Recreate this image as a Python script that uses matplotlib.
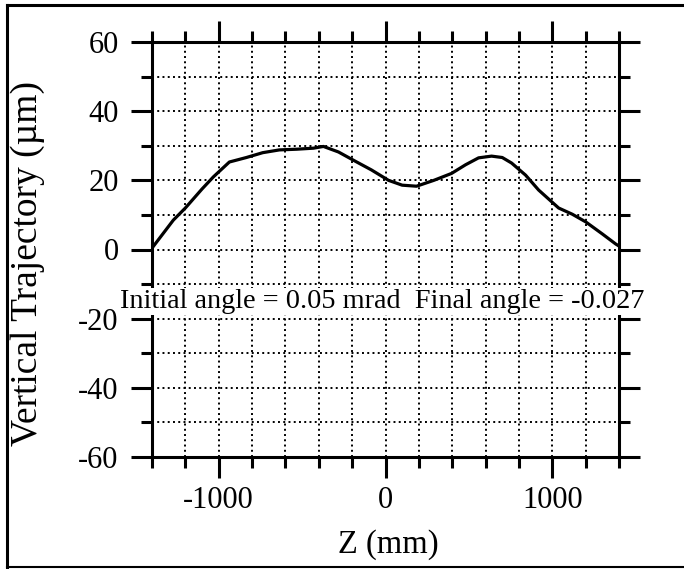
import matplotlib
matplotlib.use("Agg")
import matplotlib.pyplot as plt
from matplotlib.ticker import MultipleLocator, FuncFormatter
from matplotlib.lines import Line2D
import numpy as np

plt.rcParams['font.family'] = ['Liberation Serif', 'DejaVu Serif']

# Data
z_mm = [-1400, -1272, -1200, -1100, -1032, -936, -834, -736, -636, -532, -432, -372,
        -282, -184, -84, 18, 100, 186, 290, 396, 480, 558, 636, 700, 756, 840, 918,
        1038, 1120, 1200, 1300, 1380, 1400]
traj_um = [0.4, 8.5, 12.0, 17.5, 21.0, 25.3, 26.6, 28.0, 28.8, 29.0, 29.3, 29.8,
           28.2, 25.6, 23.0, 20.0, 18.6, 18.3, 20.0, 22.0, 24.5, 26.5, 27.0, 26.6,
           25.0, 21.5, 17.2, 12.0, 10.2, 8.0, 4.5, 1.6, 1.0]

x_major = [-1000, 0, 1000]
y_major = [-60, -40, -20, 0, 20, 40, 60]
annotation = "Initial angle = 0.05 mrad  Final angle = -0.027"
xlabel = "Z (mm)"
ylabel = "Vertical Trajectory (\u00b5m)"

fig = plt.figure(figsize=(6.84, 5.69), dpi=100)
ax = fig.add_axes([152/684, 1 - 457/569, (619 - 152)/684, (457 - 42)/569])

ax.plot(z_mm, traj_um, color='black', lw=2.3, solid_capstyle='round', zorder=3)

ax.set_xlim(-1400, 1400)
ax.set_ylim(-60, 60)
ax.xaxis.set_major_locator(plt.FixedLocator(x_major))
ax.xaxis.set_minor_locator(MultipleLocator(200))
ax.yaxis.set_major_locator(plt.FixedLocator(y_major))
ax.yaxis.set_minor_locator(MultipleLocator(10))
fmt = FuncFormatter(lambda v, p: "%d" % v)
ax.xaxis.set_major_formatter(fmt)
ax.yaxis.set_major_formatter(fmt)

ax.grid(which='both', color='black', linestyle=(0, (1, 1.7)), lw=1.4)
ax.set_axisbelow(True)

for s in ax.spines.values():
    s.set_linewidth(2.2)

ax.tick_params(which='both', direction='out', top=True, right=True, width=2.2,
               labeltop=False, labelright=False, labelsize=22)
ax.tick_params(which='major', length=15)
ax.tick_params(which='minor', length=8)
ax.tick_params(axis='y', which='major', pad=9)
ax.tick_params(axis='x', which='major', pad=6)

ax.text(-20, -16.9, annotation, ha='center', va='baseline', fontsize=20.3,
        bbox=dict(facecolor='white', edgecolor='none', pad=1.0), zorder=4)

fig.text(388/684, 1 - 545/569, xlabel, ha='center', va='center', fontsize=23.5)
fig.text(28/684, 1 - 264/569, ylabel, ha='center', va='center', fontsize=27, rotation=90)

# outer frame
fig.add_artist(Line2D([7/684, 7/684], [1 - 567/569, 1 - 5/569], color='black', lw=2.2,
                      transform=fig.transFigure))
fig.add_artist(Line2D([7/684, 1], [1 - 5/569, 1 - 5/569], color='black', lw=2.2,
                      transform=fig.transFigure))
fig.add_artist(Line2D([7/684, 1], [1 - 567/569, 1 - 567/569], color='black', lw=1.5,
                      transform=fig.transFigure))

fig.savefig("out.png", dpi=100)
